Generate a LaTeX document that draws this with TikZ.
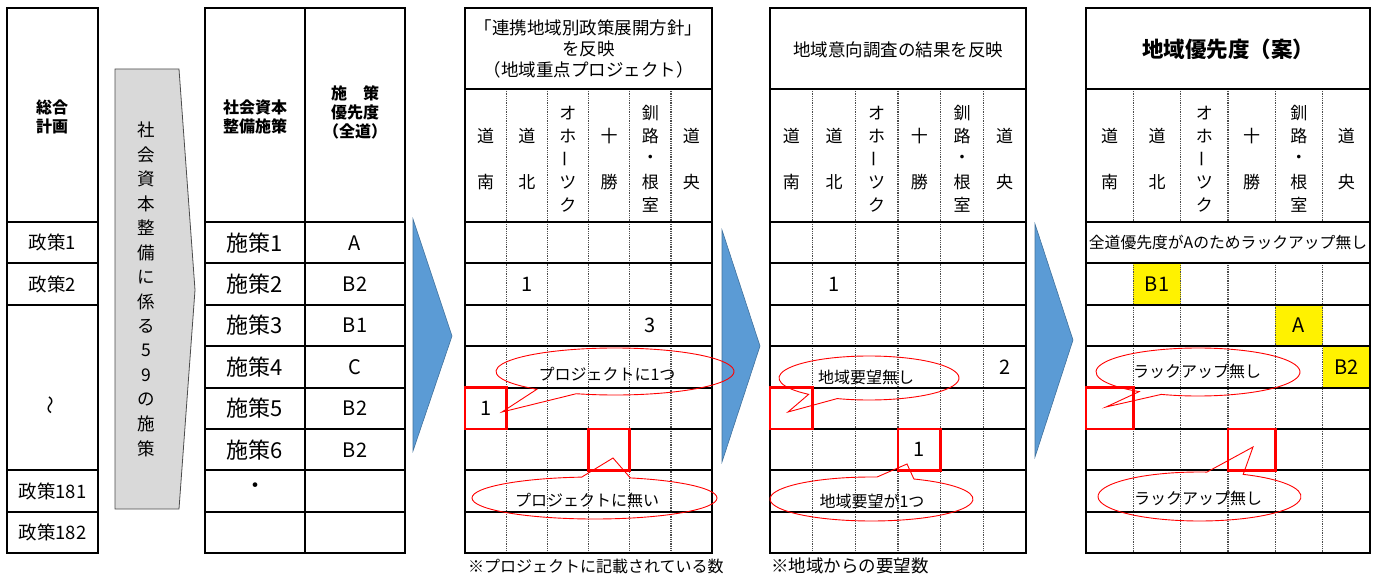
\documentclass[tikz,border=0pt]{standalone}
\usepackage{fontspec}
\setmainfont{Noto Sans CJK JP}
\definecolor{arrowblue}{HTML}{5B9BD5}
\definecolor{arrowblueline}{HTML}{41719C}
\definecolor{arrowgray}{HTML}{D9D9D9}
\begin{document}
\begin{tikzpicture}[x=1pt,y=-1pt,
  frame/.style={line width=2.4pt},
  rowline/.style={line width=2pt},
  dotline/.style={line width=1.3pt, black!70, dash pattern=on 1pt off 0.8pt},
  redbox/.style={draw=red, line width=2.6pt},
  callout/.style={draw=red, line width=0.9pt},
  tcell/.style={inner sep=0, font=\fontsize{17}{20}\selectfont},
  tcall/.style={inner sep=0, font=\fontsize{16}{19}\selectfont},
  tleft/.style={inner sep=0, font=\fontsize{18.5}{21}\selectfont},
  tvert/.style={inner sep=0, font=\fontsize{17.5}{21}\selectfont},
  tbig/.style={inner sep=0, font=\fontsize{22}{25}\selectfont},
  tnum/.style={inner sep=0, font=\fontsize{20}{23}\selectfont},
  thead/.style={inner sep=0, align=center, font=\bfseries\fontsize{16}{19}\selectfont},
  ttitle/.style={inner sep=0, align=center, font=\fontsize{17.5}{21}\selectfont},
  bluearrow/.style={fill=arrowblue, draw=arrowblueline, line width=0.6pt},
  grayarrow/.style={fill=arrowgray, draw=black!70, line width=0.8pt},
  yellowcell/.style={fill=yellow, draw=none}]
\useasboundingbox (0,0) rectangle (1374,575);

% ---------- left table ----------
\draw[frame] (7,8) rectangle (98,553.2);
\foreach \r in {222,263.4,304.8,470.4,511.8} \draw[rowline] (7,\r) -- (98,\r);
\node[thead] (sogo) at (52,117) {総合\\計画};
\node[tleft] (p1) at (52.5,242.7) {政策1};
\node[tleft] (p2) at (52.5,284.1) {政策2};
\node[tleft, rotate=90] (pt) at (52.5,405) {〜};
\node[tleft] (p181) at (52.5,491.1) {政策181};
\node[tleft] (p182) at (52.5,532.5) {政策182};

% ---------- gray arrow ----------
\draw[grayarrow] (115,69) -- (179,69) -- (195,290) -- (179,509) -- (115,509) -- cycle;
\foreach \c [count=\i from 0] in {社,会,資,本,整,備,に,係,る,5,9,の,施,策}
  \node[tvert] (g\i) at (146,{130+24.5*\i}) {\c};

% ---------- table 2 ----------
\draw[frame] (205,8) rectangle (405,553.2);
\draw[frame] (305,8) -- (305,553.2);
\foreach \r in {222,263.4,304.8,346.2,387.6,429,470.4,511.8} \draw[rowline] (205,\r) -- (405,\r);
\node[thead] (h2a) at (255,117) {社会資本\\整備施策};
\node[thead] (h2b) at (355,112) {施　策\\優先度\\（全道）};
\foreach \n/\v [count=\i] in {1/A,2/B2,3/B1,4/C,5/B2,6/B2} {
  \node[tbig] (s\i) at (255,{222+41.4*(\i-0.5)}) {施策\n};
  \node[tnum] (v\i) at (355,{222+41.4*(\i-0.5)}) {\v};
}
\node[tbig] (sdot) at (255,488) {・};

% ---------- blue arrows ----------
\draw[bluearrow] (413,219) -- (452,336) -- (413,451) -- cycle;
\draw[bluearrow] (722,230) -- (760,346) -- (722,462) -- cycle;
\draw[bluearrow] (1035,224) -- (1073,340) -- (1035,457) -- cycle;

% ---------- yellow cells (table 5) ----------
\fill[yellowcell] (1133.3,263.4) rectangle (1180.7,304.8);
\fill[yellowcell] (1275.3,304.8) rectangle (1322.7,346.2);
\fill[yellowcell] (1322.7,346.2) rectangle (1370,387.6);

% ---------- regional tables ----------
\foreach \X/\W/\T/\S in {465/41.17/c/0, 770/42.67/d/0, 1086/47.33/e/1} {
  \foreach \k in {1,...,5} {
    \ifnum\S=1
      \draw[dotline] ({\X+\k*\W},89) -- ({\X+\k*\W},222);
      \draw[dotline] ({\X+\k*\W},263.4) -- ({\X+\k*\W},553.2);
    \else
      \draw[dotline] ({\X+\k*\W},89) -- ({\X+\k*\W},553.2);
    \fi
  }
  \draw[frame] (\X,8) rectangle ({\X+6*\W},553.2);
  \draw[rowline] (\X,89) -- ({\X+6*\W},89);
  \foreach \r in {222,263.4,304.8,346.2,387.6,429,470.4,511.8} \draw[rowline] (\X,\r) -- ({\X+6*\W},\r);
  \foreach \c/\a/\b in {1/道/南, 2/道/北, 4/十/勝, 6/道/央} {
    \node[tcell] (\T h\c a) at ({\X+(\c-0.5)*\W},136) {\a};
    \node[tcell] (\T h\c b) at ({\X+(\c-0.5)*\W},182) {\b};
  }
  \node[tcell] (\T h3a) at ({\X+2.5*\W},113) {オ};
  \node[tcell] (\T h3b) at ({\X+2.5*\W},136) {ホ};
  \node[tcell, rotate=90] (\T h3c) at ({\X+2.5*\W},159) {ー};
  \node[tcell] (\T h3d) at ({\X+2.5*\W},182) {ツ};
  \node[tcell] (\T h3e) at ({\X+2.5*\W},205) {ク};
  \node[tcell] (\T h5a) at ({\X+4.5*\W},113) {釧};
  \node[tcell] (\T h5b) at ({\X+4.5*\W},136) {路};
  \node[tcell] (\T h5c) at ({\X+4.5*\W},159) {・};
  \node[tcell] (\T h5d) at ({\X+4.5*\W},182) {根};
  \node[tcell] (\T h5e) at ({\X+4.5*\W},205) {室};
}

% titles
\node[ttitle] (t3) at (588.5,49) {「連携地域別政策展開方針」\\を反映\\（地域重点プロジェクト）};
\node[ttitle] (t4) at (898,50) {地域意向調査の結果を反映};
\node[inner sep=0, font=\bfseries\fontsize{21.5}{25}\selectfont] (t5) at (1228,49) {地域優先度（案）};

% cell values
\node[tnum] (c21) at (526.8,284.1) {1};
\node[tnum] (c33) at (650.3,325.5) {3};
\node[tnum] (c51) at (485.6,408.3) {1};
\node[tnum] (d21) at (834,284.1) {1};
\node[tnum] (d42) at (1004.7,366.9) {2};
\node[tnum] (d61) at (919.3,449.7) {1};
\node[inner sep=0, font=\fontsize{15.8}{18}\selectfont] (e1) at (1228,242.7) {全道優先度がAのためラックアップ無し};
\node[tnum] (eb1) at (1157,284.1) {B1};
\node[tnum] (ea) at (1299,325.5) {A};
\node[tnum] (eb2) at (1346.3,366.9) {B2};

% red boxes
\draw[redbox] (465,387.6) rectangle (506.2,429);
\draw[redbox] (588.5,429) rectangle (629.7,470.4);
\draw[redbox] (770,387.6) rectangle (812.7,429);
\draw[redbox] (898,429) rectangle (940.7,470.4);
\draw[redbox] (1086,387.6) rectangle (1133.3,429);
\draw[redbox] (1228,429) rectangle (1275.3,470.4);

% callouts
\draw[callout] (615,371.5) ++(251:119pt and 23.5pt) arc[start angle=251, end angle=589, x radius=119pt, y radius=23.5pt] -- (502,412) -- cycle;
\draw[callout] (594.5,498) ++(96:122.5pt and 21pt) arc[start angle=96, end angle=433, x radius=122.5pt, y radius=21pt] -- (613,458) -- cycle;
\draw[callout] (869,378) ++(249.3:90pt and 22pt) arc[start angle=249.3, end angle=587.9, x radius=90pt, y radius=22pt] -- (788,412) -- cycle;
\draw[callout] (871.5,499) ++(86.9:101.5pt and 22pt) arc[start angle=86.9, end angle=425.3, x radius=101.5pt, y radius=22pt] -- (907,464) -- cycle;
\draw[callout] (1198,372) ++(248.9:102pt and 24pt) arc[start angle=248.9, end angle=594.8, x radius=102pt, y radius=24pt] -- (1106,407) -- cycle;
\draw[callout] (1199.5,496.5) ++(85.8:101.5pt and 24.5pt) arc[start angle=85.8, end angle=424.5, x radius=101.5pt, y radius=24.5pt] -- (1253,447) -- cycle;
\node[tcall] (ka) at (607,374) {プロジェクトに1つ};
\node[tcall] (kb) at (587,500) {プロジェクトに無い};
\node[tcall] (kc) at (866,377) {地域要望無し};
\node[tcall] (kd) at (872,501) {地域要望が1つ};
\node[tcall] (ke) at (1197,371) {ラックアップ無し};
\node[tcall] (kf) at (1198,498) {ラックアップ無し};

% footnotes
\node[tcall, anchor=west] (f1) at (468,566) {※プロジェクトに記載されている数};
\node[tcall, anchor=west, font=\fontsize{17.5}{20}\selectfont] (f2) at (771,566) {※地域からの要望数};
\end{tikzpicture}
\end{document}
